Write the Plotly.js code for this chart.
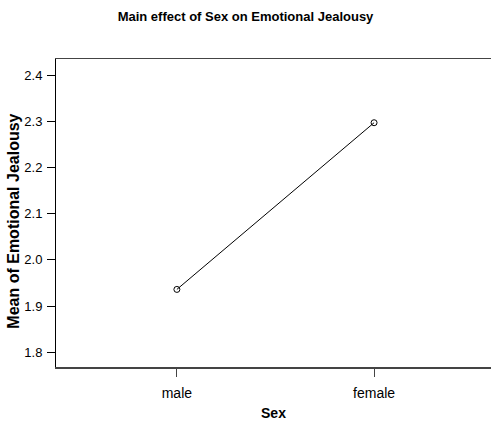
<!DOCTYPE html>
<html>
<head>
<meta charset="utf-8">
<script src="https://cdn.plot.ly/plotly-3.0.1.min.js"></script>
<style>html,body{margin:0;padding:0;background:#fff;}#chart{width:491px;height:421px;}</style>
</head>
<body>
<div id="chart"></div>
<script>
const categories = ["male", "female"];
const meanEmotionalJealousy = [1.936, 2.297];
const yTickValues = [1.8, 1.9, 2.0, 2.1, 2.2, 2.3, 2.4];
const yTickLabels = ["1.8", "1.9", "2.0", "2.1", "2.2", "2.3", "2.4"];

const trace = {
  x: [0, 1],
  y: meanEmotionalJealousy,
  type: "scatter",
  mode: "lines+markers",
  line: {color: "#000", width: 1},
  marker: {symbol: "circle-open", size: 6, color: "#000", line: {width: 1, color: "#000"}},
  hoverinfo: "skip"
};

const font = "Liberation Sans, Arial, sans-serif";
const layout = {
  width: 491, height: 421,
  margin: {l: 56, r: 0, t: 59, b: 54, pad: 0},
  paper_bgcolor: "#fff", plot_bgcolor: "#fff",
  showlegend: false,
  font: {family: font, size: 13, color: "#000"},
  title: {text: "<b>Main effect of Sex on Emotional Jealousy</b>", x: 0.5, xanchor: "center", y: 0.96, yanchor: "middle", font: {family: font, size: 13, color: "#000"}},
  xaxis: {
    range: [-0.613, 1.593],
    tickvals: [0, 1], ticktext: categories,
    ticks: "outside", ticklen: 8, tickwidth: 1, tickcolor: "#444",
    ticklabelstandoff: 5,
    showline: true, linecolor: "#444", linewidth: 1.5, mirror: true,
    showgrid: false, zeroline: false,
    tickfont: {family: font, size: 14, color: "#000"},
    title: {text: "<b>Sex</b>", standoff: 10, font: {family: font, size: 14, color: "#000"}}
  },
  yaxis: {
    range: [1.768, 2.435],
    tickvals: yTickValues, ticktext: yTickLabels,
    ticks: "outside", ticklen: 8, tickwidth: 1, tickcolor: "#000",
    ticklabelstandoff: 2,
    showline: true, linecolor: "#000", linewidth: 1,
    showgrid: false, zeroline: false,
    tickfont: {family: font, size: 13, color: "#000"},
    title: {text: ""}
  },
  annotations: [{
    text: "<b>Mean of Emotional Jealousy</b>",
    xref: "paper", yref: "paper",
    x: -0.0966, y: 0.475,
    xanchor: "center", yanchor: "middle",
    textangle: -90, showarrow: false,
    font: {family: font, size: 16, color: "#000"}
  }]
};

Plotly.newPlot("chart", [trace], layout, {displayModeBar: false, staticPlot: true});
</script>
</body>
</html>
